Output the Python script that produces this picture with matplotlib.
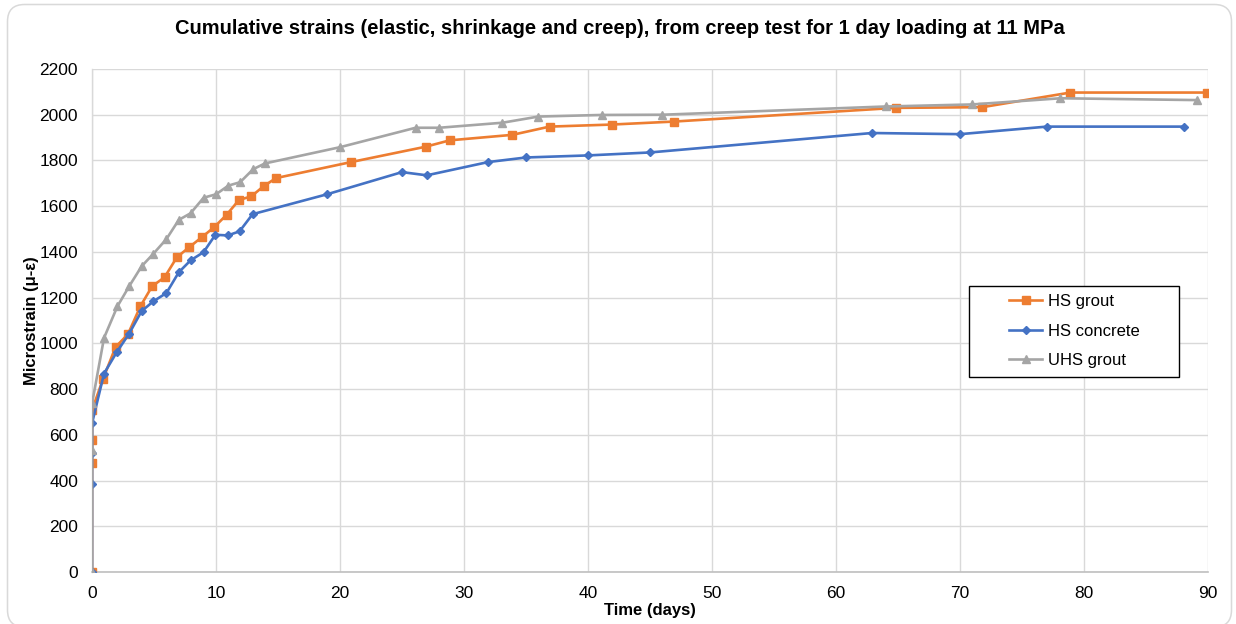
import matplotlib
matplotlib.use("Agg")
import matplotlib.pyplot as plt
from matplotlib.patches import FancyBboxPatch, Rectangle
from matplotlib.transforms import IdentityTransform

plt.rcParams['font.family'] = ['Liberation Sans', 'DejaVu Sans']

# ---- data ----
hs_grout_t = [0, 0.001, 0.005, 0.01, 0.88, 1.9, 2.9, 3.9, 4.85, 5.85, 6.85, 7.85, 8.85,
              9.85, 10.85, 11.85, 12.85, 13.85, 14.85, 20.9, 26.9, 28.85, 33.9, 36.9,
              41.9, 46.9, 64.8, 71.8, 78.9, 89.9]
hs_grout_v = [0, 477, 577, 709, 843, 984, 1040, 1162, 1250, 1289, 1377, 1421, 1464,
              1508, 1562, 1627, 1643, 1688, 1723, 1793, 1860, 1888, 1912, 1948,
              1957, 1970, 2030, 2033, 2097, 2097]

hs_conc_t = [0, 0.001, 0.005, 0.01, 0.97, 2.0, 3.0, 4.0, 4.95, 6.0, 7.0, 7.95, 9.0,
             9.95, 10.95, 11.9, 12.95, 18.95, 25.0, 27.0, 31.95, 35.0, 40.0, 45.0,
             62.9, 70.0, 77.0, 88.1]
hs_conc_v = [0, 383, 519, 652, 868, 962, 1043, 1141, 1184, 1220, 1311, 1363, 1399,
             1475, 1472, 1490, 1565, 1652, 1749, 1735, 1793, 1813, 1822, 1835,
             1920, 1915, 1948, 1948]

uhs_grout_t = [0, 0.005, 0.01, 0.97, 2.05, 3.0, 4.0, 4.95, 6.0, 7.0, 7.95, 9.0, 10.0,
               11.0, 11.95, 13.0, 13.95, 20.0, 26.1, 28.0, 33.1, 36.0, 41.1, 46.0,
               64.0, 71.0, 78.1, 89.1]
uhs_grout_v = [0, 535, 738, 1024, 1162, 1250, 1337, 1392, 1456, 1540, 1569, 1637, 1652,
               1690, 1705, 1762, 1787, 1858, 1943, 1943, 1965, 1992, 1999, 2000,
               2036, 2045, 2072, 2064]

series_names = ["HS grout", "HS concrete", "UHS grout"]
x_ticks = list(range(0, 91, 10))
y_ticks = list(range(0, 2201, 200))

W, H = 1236, 624

# ---- figure ----
fig = plt.figure(figsize=(W / 100, H / 100), dpi=100)
border = FancyBboxPatch((7.5, -3), 1224, H - 4 + 3 - 0.5,
                        boxstyle="round,pad=0,rounding_size=17",
                        transform=IdentityTransform(), facecolor="white",
                        edgecolor="#d9d9d9", linewidth=1.1, zorder=-10)
fig.patches.append(border)

ax = fig.add_axes([92 / W, 1 - 572 / H, 1116 / W, 503 / H])
ax.set_facecolor("none")

ax.plot(hs_grout_t, hs_grout_v, color="#ED7D31", marker="s", markersize=6,
        linewidth=1.9, label=series_names[0], zorder=3)
ax.plot(hs_conc_t, hs_conc_v, color="#4472C4", marker="D", markersize=4,
        linewidth=1.9, label=series_names[1], zorder=4)
ax.plot(uhs_grout_t, uhs_grout_v, color="#A5A5A5", marker="^", markersize=6,
        linewidth=1.9, label=series_names[2], zorder=5)

ax.set_xlim(0, 90)
ax.set_ylim(0, 2200)
ax.set_xticks(x_ticks)
ax.set_yticks(y_ticks)
ax.tick_params(axis="y", length=0, labelsize=12.5, colors="#000000", pad=10)
ax.tick_params(axis="x", length=0, labelsize=12.5, colors="#000000", pad=10)
ax.grid(True, color="#d9d9d9", linewidth=1.0, zorder=0)
ax.set_axisbelow(True)
for s in ["top", "right"]:
    ax.spines[s].set_visible(False)
ax.spines["left"].set_color("#d9d9d9")
ax.spines["bottom"].set_color("#bfbfbf")
ax.spines["left"].set_linewidth(1.0)
ax.spines["bottom"].set_linewidth(1.2)

ax.set_xlabel("Time (days)", fontsize=12, fontweight="bold", labelpad=1.5)
ax.set_ylabel("Microstrain (μ-ε)", fontsize=12, fontweight="bold", labelpad=0)
fig.text(620 / W, 1 - 29 / H,
         "Cumulative strains (elastic, shrinkage and creep), from creep test for 1 day loading at 11 MPa",
         fontsize=14.5, fontweight="bold", ha="center", va="center")

# legend box (drawn in pixel positions converted to axes fractions)
def ax_frac(px, py):
    return ((px - 92) / 1116, (572 - py) / 503)

x0, y0 = ax_frac(969, 377)
x1, y1 = ax_frac(1179, 286)
ax.add_patch(Rectangle((x0, y0), x1 - x0, y1 - y0, transform=ax.transAxes,
                       facecolor="white", edgecolor="black", linewidth=1.0, zorder=6))

lx, ly = ax_frac(1009, 331)
leg = ax.legend(loc="center left", bbox_to_anchor=(lx, ly), frameon=False,
                fontsize=12, handlelength=2.0, borderpad=0, labelspacing=0.88,
                borderaxespad=0, handletextpad=0.35)
leg.set_zorder(7)

fig.savefig("out.png", dpi=100)
